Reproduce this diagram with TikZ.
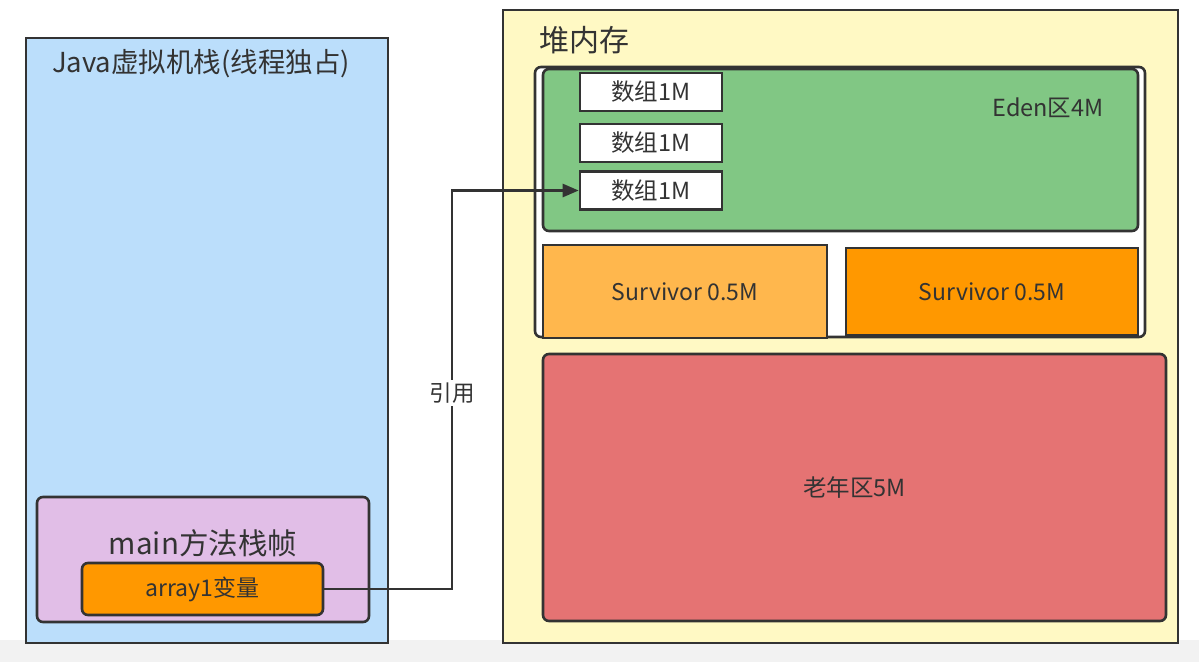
\documentclass[tikz,border=0pt]{standalone}
\usepackage{fontspec}
\setmainfont{Noto Sans CJK SC}
\usetikzlibrary{arrows.meta}
\definecolor{ln}{HTML}{333333}
\definecolor{txt}{HTML}{333333}
\definecolor{stackblue}{HTML}{BBDEFB}
\definecolor{framepurple}{HTML}{E1BEE7}
\definecolor{varorange}{HTML}{FF9800}
\definecolor{heapyellow}{HTML}{FFF9C4}
\definecolor{edengreen}{HTML}{81C784}
\definecolor{survlight}{HTML}{FFB74D}
\definecolor{oldred}{HTML}{E57373}
\definecolor{band}{HTML}{F2F2F2}
\begin{document}
\begin{tikzpicture}[x=1pt,y=-1pt,
  box/.style={draw=ln, line width=2.6pt, inner sep=0pt, text=txt},
  rbox/.style={box, rounded corners=6pt},
  lbl/.style={text=txt, inner sep=0pt},
  fs/.style={font=\fontsize{#1}{#1}\selectfont}
]
\useasboundingbox (0,0) rectangle (1199,662);
\fill[white] (0,0) rectangle (1199,662);
\fill[band] (0,640) rectangle (1199,662);

% Java stack
\node[box, fill=stackblue, minimum width=362pt, minimum height=605pt] (stack) at (207,340.5) {};
\node[lbl, fs=27.5] (stacktitle) at (201,64) {Java虚拟机栈(线程独占)};
\node[rbox, fill=framepurple, minimum width=332pt, minimum height=125pt] (frame) at (203,559.5) {};
\node[lbl, fs=29.5] (frametitle) at (203,543) {main方法栈帧};
\node[rbox, fill=varorange, minimum width=241pt, minimum height=52pt, fs=23] (a1) at (202.5,589) {array1变量};

% Heap
\node[box, fill=heapyellow, minimum width=675pt, minimum height=633pt] (heap) at (840.5,326.5) {};
\node[lbl, fs=30, anchor=west] (heaptitle) at (539,40) {堆内存};
\node[rbox, fill=white, minimum width=610pt, minimum height=270pt] (young) at (840,202) {};
\node[rbox, fill=edengreen, minimum width=595pt, minimum height=162pt] (eden) at (840.5,150) {};
\node[lbl, fs=23.5] (edentitle) at (1048,108) {Eden区4M};
\node[box, fill=white, minimum width=142pt, minimum height=38pt, fs=23.5] (arr1) at (651,92) {数组1M};
\node[box, fill=white, minimum width=142pt, minimum height=38pt, fs=23.5] (arr2) at (651,143) {数组1M};
\node[box, fill=white, minimum width=142pt, minimum height=38pt, fs=23.5] (arr3) at (651,190.5) {数组1M};
\node[box, fill=survlight, minimum width=284pt, minimum height=93pt, fs=23] (s1) at (685,291.5) {Survivor 0.5M};
\node[box, fill=varorange, minimum width=292pt, minimum height=87pt, fs=23] (s2) at (992,291.5) {Survivor 0.5M};
\node[rbox, fill=oldred, minimum width=623pt, minimum height=267pt, fs=23.5] (old) at (854.5,487.5) {老年区5M};

% Reference arrow
\coordinate (bend) at (452,589);
\draw[ln, line width=2.6pt, -{Triangle[length=16pt,width=13pt]}] (a1.east) -- (bend) |- (arr3.west);
\node[lbl, fill=white, inner sep=3pt, fs=22.5] (reflbl) at (452,393) {引用};
\end{tikzpicture}
\end{document}
